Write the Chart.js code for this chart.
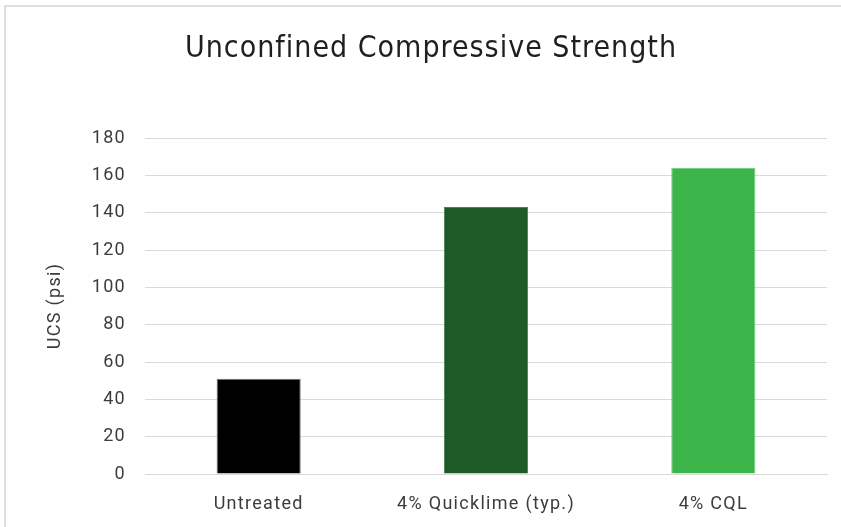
<!DOCTYPE html>
<html><head><meta charset="utf-8">
<script src="https://cdn.jsdelivr.net/npm/chart.js@4/dist/chart.umd.min.js"></script>
<style>
html,body{margin:0;padding:0;background:#fff;overflow:hidden;}
#frame{position:absolute;left:4px;top:5px;width:1000px;height:700px;border:2px solid #e0e0e0;}
#wrap{position:absolute;left:0;top:0;width:841px;height:527px;}
</style></head>
<body>
<div id="frame"></div>
<div id="wrap"><canvas id="c" width="841" height="527"></canvas></div>
<script>
const chartTitle = "Unconfined Compressive Strength";
const yAxisTitle = "UCS (psi)";
const categories = ["Untreated", "4% Quicklime (typ.)", "4% CQL"];
const ucsValues = [51, 143, 164];
const barColors = ["#000000", "#1e5a27", "#3bb44a"];
const barBorders = ["#707070", "#4f7f56", "#6cc878"];
const yTicks = [0, 20, 40, 60, 80, 100, 120, 140, 160, 180];

const tickFont = {family: "Roboto, 'DejaVu Sans', sans-serif", size: 18};

const textPlugin = {
  id: 'textPlugin',
  beforeDraw(chart) {
    chart.ctx.letterSpacing = '1.3px';
  },
  afterDraw(chart) {
    const ctx = chart.ctx;
    ctx.save();
    ctx.letterSpacing = '1px';
    ctx.font = "30px 'DejaVu Sans Condensed', 'DejaVu Sans', sans-serif";
    ctx.fillStyle = "#1f1f1f";
    ctx.textAlign = 'center';
    ctx.textBaseline = 'alphabetic';
    ctx.fillText(chartTitle, 431, 57);
    ctx.restore();
  }
};

new Chart(document.getElementById('c'), {
  type: 'bar',
  data: {
    labels: categories,
    datasets: [{
      data: ucsValues,
      backgroundColor: barColors,
      borderColor: barBorders,
      borderWidth: 1,
      barPercentage: 0.37,
      categoryPercentage: 1.0
    }]
  },
  plugins: [textPlugin],
  options: {
    responsive: false,
    animation: false,
    devicePixelRatio: 1,
    layout: {padding: {left: 0, right: 14, top: 138, bottom: 0}},
    plugins: {
      legend: {display: false},
      tooltip: {enabled: false},
      title: {display: false}
    },
    scales: {
      y: {
        min: 0, max: 180,
        afterBuildTicks: s => { s.ticks = yTicks.map(v => ({value: v})); },
        afterFit: s => { s.width = 145; },
        grid: {color: "#d9d9d9", lineWidth: 1, drawTicks: false},
        border: {display: false},
        ticks: {color: "#3c3c3c", font: tickFont, padding: 19},
        title: {display: true, text: yAxisTitle, color: "#3c3c3c",
                font: {family: tickFont.family, size: 18}, padding: {top: 45, bottom: 0}}
      },
      x: {
        afterFit: s => { s.height = 53; },
        grid: {display: false, drawTicks: false},
        border: {display: true, color: "#d9d9d9", width: 1},
        ticks: {color: "#3c3c3c", font: tickFont, padding: 20}
      }
    }
  }
});
</script>
</body></html>
